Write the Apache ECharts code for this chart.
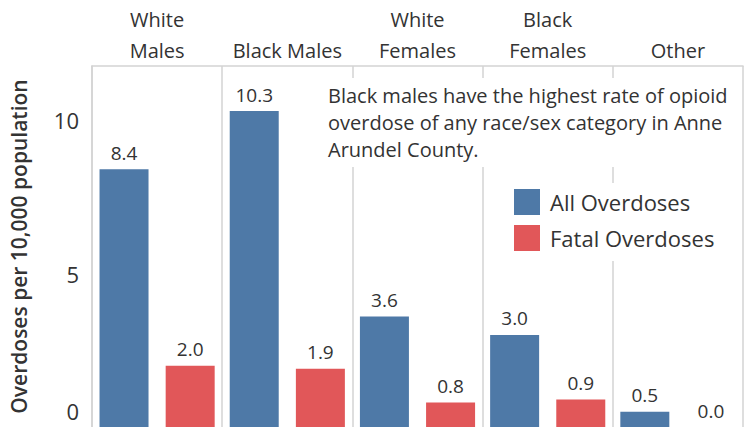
<!DOCTYPE html>
<html>
<head>
<meta charset="utf-8">
<script src="https://cdn.jsdelivr.net/npm/echarts@6/dist/echarts.min.js"></script>
<style>
html,body{margin:0;padding:0;background:#fff;}
#main{width:748px;height:427px;}
</style>
</head>
<body>
<div id="main"></div>
<script>
var categories = ['White\nMales', 'Black Males', 'White\nFemales', 'Black\nFemales', 'Other'];
var allOverdoses = [8.4, 10.3, 3.6, 3.0, 0.5];
var fatalOverdoses = [2.0, 1.9, 0.8, 0.9, 0.0];
var yTicks = [0, 5, 10];
var annotation = 'Black males have the highest rate of opioid\noverdose of any race/sex category in Anne\nArundel County.';

var FONT = 'Open Sans';
var TXT = '#333333';
var LINE = '#d3d3d3';

var chart = echarts.init(document.getElementById('main'), null, {renderer: 'svg'});
var labelOpt = {
  show: true, position: 'top', distance: 7,
  fontFamily: FONT, fontSize: 19, color: TXT,
  formatter: function (p) { return p.value.toFixed(1); }
};
chart.setOption({
  animation: false,
  grid: {left: 88, right: 5, top: 66, bottom: 0, containLabel: false},
  legend: {
    orient: 'vertical', left: 500, top: 183,
    padding: [6, 8, 10, 14],
    backgroundColor: '#ffffff',
    itemWidth: 26, itemHeight: 26, itemGap: 10,
    icon: 'rect',
    textStyle: {fontFamily: FONT, fontSize: 22, color: TXT, padding: [0, 0, 0, 5]},
    z: 50,
    data: ['All Overdoses', 'Fatal Overdoses']
  },
  xAxis: {
    type: 'category', position: 'top', data: categories,
    axisLine: {show: true, onZero: false, lineStyle: {color: LINE, width: 1.5}},
    axisTick: {show: false},
    axisLabel: {fontFamily: FONT, fontSize: 20, color: TXT, lineHeight: 31, margin: 0, interval: 0},
    splitLine: {show: true, lineStyle: {color: LINE, width: 1.5}}
  },
  yAxis: {
    type: 'value', min: 0, max: 11.77, interval: 5,
    name: 'Overdoses per 10,000 population', nameLocation: 'middle', nameGap: 63,
    nameTextStyle: {fontFamily: FONT, fontSize: 21, color: TXT, fontWeight: 600},
    axisLine: {show: true, lineStyle: {color: LINE, width: 1.5}},
    axisTick: {show: false},
    splitLine: {show: false},
    axisLabel: {
      fontFamily: FONT, fontSize: 22, color: TXT, margin: 13,
      verticalAlignMinLabel: 'bottom',
      formatter: function (v) {
        if (yTicks.indexOf(v) < 0) return '';
        return v === 0 ? '{z|0}' : String(v);
      },
      rich: {z: {fontFamily: FONT, fontSize: 22, color: TXT, padding: [0, 0, 5, 0]}}
    }
  },
  graphic: [{
    type: 'text', left: 320, top: 78, z: 50,
    style: {
      text: annotation, fontFamily: FONT, fontSize: 20, lineHeight: 27, fill: TXT,
      backgroundColor: '#ffffff', padding: [4, 6, 4, 8]
    }
  }],
  series: [
    {name: 'All Overdoses', type: 'bar', data: allOverdoses, barWidth: 49, barGap: '35%',
     itemStyle: {color: '#4E79A7'}, label: labelOpt},
    {name: 'Fatal Overdoses', type: 'bar', data: fatalOverdoses, barWidth: 49,
     itemStyle: {color: '#E15759'}, label: labelOpt}
  ]
});
</script>
</body>
</html>
